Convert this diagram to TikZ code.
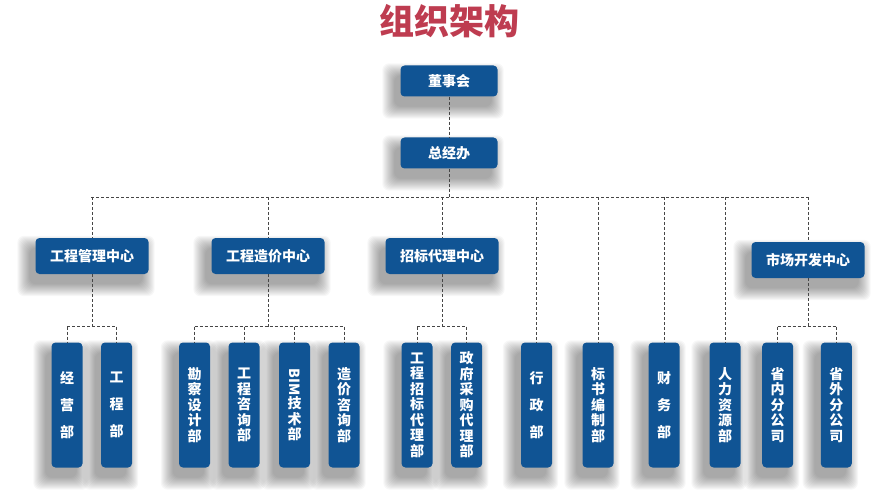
\documentclass[tikz,border=0pt]{standalone}
\usepackage{fontspec}
\usepackage{graphicx}
\newfontfamily\cjk{Noto Sans CJK SC}
\usetikzlibrary{calc}
\definecolor{boxblue}{RGB}{16,84,148}
\definecolor{titlered}{RGB}{190,60,80}
\definecolor{lineg}{RGB}{70,70,70}
\pgfdeclarelayer{bg}
\pgfsetlayers{bg,main}
\begin{document}
\begin{tikzpicture}[x=1pt,y=-1pt,
  box/.style={fill=boxblue, rounded corners=4pt, text=white, inner sep=0pt,
    font=\cjk\bfseries\fontsize{14}{16}\selectfont},
  topbox/.style={box, minimum width=97pt, minimum height=31pt},
  midbox/.style={box, minimum width=113pt, minimum height=36pt},
  leaf/.style={box, minimum width=31pt, minimum height=125pt, align=center},
  leafthree/.style={leaf, font=\cjk\bfseries\fontsize{14}{27}\selectfont},
  leafmany/.style={leaf, font=\cjk\bfseries\fontsize{14}{15.5}\selectfont},
  shadowlayer/.style={fill=black, opacity=0.03, rounded corners=7pt},
  conn/.style={draw=lineg, dash pattern=on 3pt off 2pt, line width=0.8pt}]
\useasboundingbox (0,0) rectangle (895,492);
\node[text=titlered, font=\cjk\bfseries\fontsize{35}{35}\selectfont] (title) at (449,21) {组织架构};
\node[topbox] (dsh) at (449,81) {董事会};
\node[topbox] (zjb) at (449,153) {总经办};
\coordinate (busL) at (91,197);
\coordinate (busR) at (808,197);
\coordinate (sub) at (0,326.5);
\node[midbox] (gcgl) at (92,256) {工程管理中心};
\node[midbox] (gczj) at (268,256) {工程造价中心};
\node[midbox] (zbdl) at (442,256) {招标代理中心};
\node[midbox] (scjf) at (808,260) {市场开发中心};
\node[leafthree] (jy) at (67,405) {经\\营\\部};
\node[leafthree] (gc) at (116.5,405) {工\\程\\部};
\node[leafmany] (kc) at (194.5,405) {勘\\察\\设\\计\\部};
\node[leafmany] (gczx) at (244,405) {工\\程\\咨\\询\\部};
\node[leafmany] (bim) at (294.5,405) {{\rotatebox[origin=c]{-90}{BIM}}\\技\\术\\部};
\node[leafmany] (zjzx) at (344,405) {造\\价\\咨\\询\\部};
\node[leafmany] (gczb) at (417,405) {工\\程\\招\\标\\代\\理\\部};
\node[leafmany] (zfcg) at (466.7,405) {政\\府\\采\\购\\代\\理\\部};
\node[leafthree] (xz) at (536.5,405) {行\\政\\部};
\node[leafmany] (bs) at (598,405) {标\\书\\编\\制\\部};
\node[leafthree] (cw) at (664,405) {财\\务\\部};
\node[leafmany] (rl) at (725,405) {人\\力\\资\\源\\部};
\node[leafmany] (sn) at (777.7,405) {省\\内\\分\\公\\司};
\node[leafmany] (sw) at (836.3,405) {省\\外\\分\\公\\司};
% soft shadows
\begin{pgfonlayer}{bg}
\foreach \n in {dsh,zjb,gcgl,gczj,zbdl,scjf,jy,gc,kc,gczx,bim,zjzx,gczb,zfcg,xz,bs,cw,rl,sn,sw}
  \foreach \i in {0,...,12}
    \fill[shadowlayer] ($(\n.south west)+(-6-\i,10+\i)$) rectangle ($(\n.north east)+(-6+\i,10-\i)$);
\end{pgfonlayer}
% connectors
\draw[conn] (dsh.south) -- (zjb.north);
\draw[conn] (zjb.south) -- (zjb.south |- busL);
\draw[conn] (busL) -- (busR);
\foreach \c in {gcgl,gczj,zbdl,scjf,xz,bs,cw,rl}
  \draw[conn] (\c.north |- busL) -- (\c.north);
% sub groups
\draw[conn] (gcgl.south) -- (gcgl.south |- sub);
\draw[conn] (jy.north |- sub) -- (gc.north |- sub);
\foreach \c in {jy,gc} \draw[conn] (\c.north |- sub) -- (\c.north);
\draw[conn] (gczj.south) -- (gczj.south |- sub);
\draw[conn] (kc.north |- sub) -- (zjzx.north |- sub);
\foreach \c in {kc,gczx,bim,zjzx} \draw[conn] (\c.north |- sub) -- (\c.north);
\draw[conn] (zbdl.south) -- (zbdl.south |- sub);
\draw[conn] (gczb.north |- sub) -- (zfcg.north |- sub);
\foreach \c in {gczb,zfcg} \draw[conn] (\c.north |- sub) -- (\c.north);
\draw[conn] (scjf.south) -- (scjf.south |- sub);
\draw[conn] (sn.north |- sub) -- (sw.north |- sub);
\foreach \c in {sn,sw} \draw[conn] (\c.north |- sub) -- (\c.north);
\end{tikzpicture}
\end{document}
